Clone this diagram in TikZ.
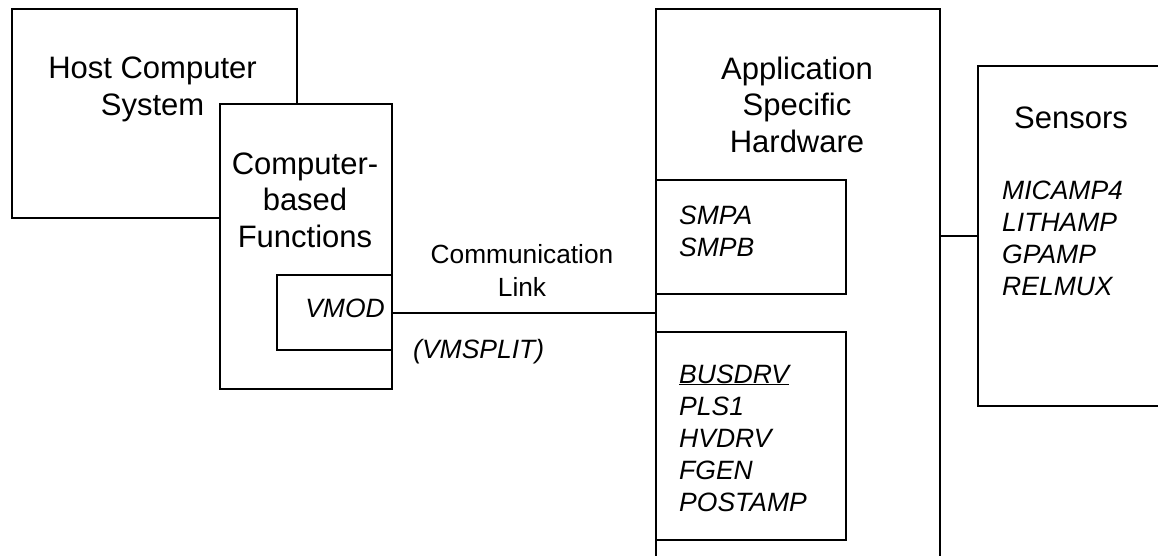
\documentclass[tikz,border=0pt]{standalone}
\usepackage{fontspec}
\setmainfont{Liberation Sans}
\usepackage{tikz}
\usetikzlibrary{calc, positioning}

\tikzset{
	box/.style = {draw, line width = 2pt, fill = white, inner sep = 0pt, anchor = north west},
	title/.style = {inner sep = 0pt, align = center, anchor = base, font = \fontsize{31}{36.5}\selectfont},
	parts/.style = {inner sep = 0pt, align = left, anchor = base west, font = \fontsize{26.5}{32}\selectfont\itshape}
}

\begin{document}
\begin{tikzpicture}[x = 1pt, y = -1pt]
					\def\W{1158};
					\def\H{555};

					\useasboundingbox (0,0) rectangle (\W,\H);
					\clip (0,0) rectangle (\W,\H);

					\begin{scope}
						\node [box, minimum width = 285pt, minimum height = 209pt] (host) at (11,8) {};
						\node [box, minimum width = 172pt, minimum height = 285pt] (cbf) at (219,103) {};
						\node [box, minimum width = 115pt, minimum height = 75pt] (vmod) at (276,274) {};
					\end{scope}

					\begin{scope}
						\node [box, minimum width = 284pt, minimum height = 600pt] (ash) at (655,8) {};
						\node [box, minimum width = 190pt, minimum height = 114pt] (smp) at (655,179) {};
						\node [box, minimum width = 190pt, minimum height = 208pt] (bus) at (655,331) {};
						\node [box, minimum width = 300pt, minimum height = 340pt] (sensors) at (977,65) {};
					\end{scope}

					\begin{scope}[line width = 2pt]
						\draw (vmod.east) -- (vmod.east -| ash.west);
						\draw (sensors.west) -- (sensors.west -| ash.east);
					\end{scope}

					% multi-line nodes sit on the baseline of their last line
					\begin{scope}
						\node [title] (hosttext) at (152.5,115) {Host Computer\\System};
						\node [title] (cbftext) at (305,247) {Computer-\\based\\Functions};
						\node [title] (ashtext) at (797,152) {Application\\Specific\\Hardware};
						\node [title] (senstext) at (1071,128) {Sensors};
						\node [title, font = \fontsize{26.3}{33}\selectfont] (link) at (522,296) {Communication\\Link};
					\end{scope}

					\begin{scope}
						\node [parts, anchor = base east] (vmodtext) at (385,317) {VMOD};
						\node [parts] (split) at (413,358) {(VMSPLIT)};
						\node [parts] (smptext) at (679,256) {SMPA\\SMPB};
						\node [parts] (bustext) at (679,511) {\underline{BUSDRV}\\PLS1\\HVDRV\\FGEN\\POSTAMP};
						\node [parts] (senslist) at (1002,295) {MICAMP4\\LITHAMP\\GPAMP\\RELMUX};
					\end{scope}
				\end{tikzpicture}
\end{document}
